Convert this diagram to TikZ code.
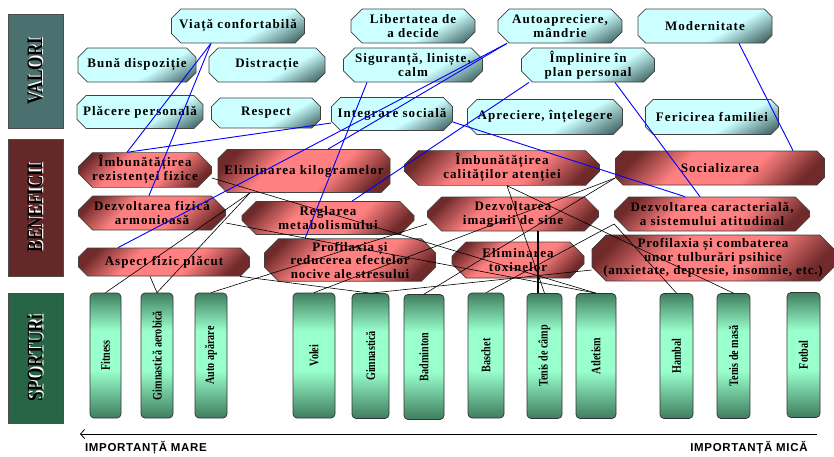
\documentclass[tikz,border=0pt]{standalone}
\usepackage{fontspec}
\usepackage{graphicx}
\setmainfont{Liberation Serif}
\newfontfamily\labfont[FakeStretch=0.78]{Liberation Serif}
\newfontfamily\sportfont[FakeStretch=0.78]{Liberation Serif}
\newfontfamily\axisfont{Liberation Sans}
\usetikzlibrary{shapes.misc,arrows.meta}

%Define all colors here.
\definecolor{vallight}{RGB}{204,255,255}
\definecolor{valdark}{RGB}{72,108,108}
\definecolor{benlight}{RGB}{255,128,128}
\definecolor{bendark}{RGB}{112,42,42}
\definecolor{spolight}{RGB}{153,255,204}
\definecolor{spodark}{RGB}{58,118,88}
\definecolor{lvlight}{RGB}{150,190,190}
\definecolor{lvdark}{RGB}{75,112,112}
\definecolor{lblight}{RGB}{190,100,100}
\definecolor{lbdark}{RGB}{100,40,40}
\definecolor{lslight}{RGB}{110,180,140}
\definecolor{lsdark}{RGB}{40,100,70}

\pgfdeclareverticalshading{valshade}{100bp}{color(0bp)=(valdark); color(20bp)=(valdark); color(40bp)=(vallight); color(100bp)=(vallight)}
\pgfdeclareverticalshading{benshade}{100bp}{color(0bp)=(bendark); color(23bp)=(bendark); color(40bp)=(benlight); color(62bp)=(benlight); color(78bp)=(bendark); color(100bp)=(bendark)}
\pgfdeclareverticalshading{sposhade}{100bp}{color(0bp)=(spodark); color(24bp)=(spodark); color(44bp)=(spolight); color(60bp)=(spolight); color(76bp)=(spodark); color(100bp)=(spodark)}

\newcommand{\sidetext}[1]{\rotatebox{90}{\rlap{\textcolor{white}{\kern1.2pt\raisebox{-1.2pt}{#1}}}#1}}

\begin{document}
\begin{tikzpicture}[x=1pt,y=-1pt,
  valori/.style={chamfered rectangle, chamfered rectangle xsep=8pt, draw=black!75, line width=0.7pt, shade, shading=valshade, shading angle=30, inner sep=0pt, align=center, font=\fontsize{13}{14}\selectfont\bfseries\addfontfeature{LetterSpace=8}},
  benef/.style={chamfered rectangle, chamfered rectangle xsep=11pt, draw=black!75, line width=0.7pt, shade, shading=benshade, shading angle=45, inner sep=0pt, align=center, font=\fontsize{13}{14}\selectfont\bfseries\addfontfeature{LetterSpace=8}},
  sport/.style={rectangle, rounded corners=4pt, draw=black!80, line width=0.7pt, shade, shading=sposhade, minimum height=125pt, inner sep=0pt, font=\sportfont\fontsize{13}{13}\selectfont\bfseries},
  side/.style={rectangle, draw=black!70, line width=0.7pt, minimum width=55pt, inner sep=0pt, font=\labfont\fontsize{22}{22}\selectfont\bfseries},
  blueline/.style={blue, line width=0.9pt},
  blackline/.style={black, line width=0.6pt}]
\useasboundingbox (0,0) rectangle (834,456);

\node(lvalori) at (35.5,71) [side, minimum height=114pt, left color=lvdark, middle color=lvlight, right color=lvdark] {\sidetext{VALORI}};
\node(lbenef) at (35.5,207.5) [side, minimum height=137pt, left color=lbdark, middle color=lblight, right color=lbdark] {\sidetext{BENEFICII}};
\node(lsport) at (35.5,358) [side, minimum height=130pt, left color=lsdark, middle color=lslight, right color=lsdark] {\sidetext{SPORTURi}};

% valori
\node(viata) at (238,26) [valori, minimum width=133pt, minimum height=34pt] {Viață confortabilă};
\node(libert) at (413,26) [valori, minimum width=124pt, minimum height=34pt] {Libertatea de\\a decide};
\node(autoapr) at (560,26) [valori, minimum width=124pt, minimum height=34pt] {Autoapreciere,\\mândrie};
\node(modern) at (705,26) [valori, minimum width=134pt, minimum height=34pt] {Modernitate};
\node(buna) at (137,65) [valori, minimum width=118pt, minimum height=34pt] {Bună dispoziție};
\node(distr) at (267,65) [valori, minimum width=116pt, minimum height=34pt] {Distracție};
\node(sigur) at (413,65) [valori, minimum width=139pt, minimum height=34pt] {Siguranță, liniște,\\calm};
\node(implin) at (588,65) [valori, minimum width=133pt, minimum height=34pt] {Împlinire în\\plan personal};
\node(placere) at (140,112) [valori, minimum width=125pt, minimum height=33pt] {Plăcere personală};
\node(respect) at (266,113) [valori, minimum width=109pt, minimum height=30pt] {Respect};
\node(integr) at (392,114) [valori, minimum width=118pt, minimum height=33pt] {Integrare socială};
\node(aprec) at (545,117) [valori, minimum width=155pt, minimum height=35pt] {Apreciere, înțelegere};
\node(feric) at (712,117) [valori, minimum width=133pt, minimum height=35pt] {Fericirea familiei};

% beneficii
\node(rezist) at (145,170) [benef, minimum width=133pt, minimum height=29pt] {Îmbunătățirea\\rezistenței fizice};
\node(elimkg) at (304,171) [benef, minimum width=172pt, minimum height=43pt] {Eliminarea kilogramelor};
\node(atentie) at (502,168) [benef, minimum width=195pt, minimum height=34pt] {Îmbunătățirea\\calităților atenției};
\node(social) at (720,168) [benef, minimum width=209pt, minimum height=34pt] {Socializarea};
\node(dezvfiz) at (152,213) [benef, minimum width=147pt, minimum height=34pt] {Dezvoltarea fizică\\armonioasă};
\node(reglare) at (328,218) [benef, minimum width=172pt, minimum height=33pt] {Reglarea\\metabolismului};
\node(imagine) at (513,214) [benef, minimum width=171pt, minimum height=34pt] {Dezvoltarea\\imaginii de sine};
\node(dezvcar) at (712,214) [benef, minimum width=195pt, minimum height=34pt] {Dezvoltarea caracterială,\\a sistemului atitudinal};
\node(aspect) at (164,262) [benef, minimum width=171pt, minimum height=28pt] {Aspect fizic plăcut};
\node(profstres) at (350,260) [benef, minimum width=171pt, minimum height=38pt, font=\fontsize{13}{13.5}\selectfont\bfseries\addfontfeature{LetterSpace=6}] {Profilaxia și\\reducerea efectelor\\nocive ale stresului};
\node(toxine) at (518,260) [benef, minimum width=132pt, minimum height=36pt] {Eliminarea\\toxinelor};
\node(tulbur) at (713,258) [benef, minimum width=242pt, minimum height=46pt, font=\fontsize{13}{13.5}\selectfont\bfseries\addfontfeature{LetterSpace=6}] {Profilaxia și combaterea\\unor tulburări psihice\\(anxietate, depresie, insomnie, etc.)};

% sporturi
\node(fitness) at (105.5,355.5) [sport, minimum width=31pt] {\rotatebox{90}{Fitness}};
\node(gimaer) at (157,355.5) [sport, minimum width=32pt] {\rotatebox{90}{Gimnastică aerobică}};
\node(autoap) at (211,355.5) [sport, minimum width=32pt] {\rotatebox{90}{Auto apărare}};
\node(volei) at (314,355.5) [sport, minimum width=42pt] {\rotatebox{90}{Volei}};
\node(gimn) at (370.5,356) [sport, minimum width=37pt] {\rotatebox{90}{Gimnastică}};
\node(badm) at (424,357) [sport, minimum width=40pt] {\rotatebox{90}{Badminton}};
\node(baschet) at (486,355.5) [sport, minimum width=36pt] {\rotatebox{90}{Baschet}};
\node(tenisc) at (544.5,356) [sport, minimum width=35pt] {\rotatebox{90}{Tenis de câmp}};
\node(atlet) at (596,356) [sport, minimum width=40pt] {\rotatebox{90}{Atletism}};
\node(hambal) at (676.5,356) [sport, minimum width=33pt] {\rotatebox{90}{Hambal}};
\node(tenism) at (733.5,356) [sport, minimum width=33pt] {\rotatebox{90}{Tenis de masă}};
\node(fotbal) at (803.5,355) [sport, minimum width=33pt] {\rotatebox{90}{Fotbal}};

% valori - beneficii
\draw[blueline] ([xshift=-27pt]viata.south) -- ([xshift=-18pt]rezist.north);
\draw[blueline] ([xshift=-27pt]viata.south) -- ([xshift=-3pt]dezvfiz.north);
\draw[blueline] ([yshift=-9pt]integr.west) -- ([xshift=-18pt]rezist.north);
\draw[blueline] ([xshift=-46pt]sigur.south) -- ([xshift=-45pt]profstres.north);
\draw[blueline] ([xshift=-53pt]autoapr.south) -- ([xshift=24pt]elimkg.north);
\draw[blueline] ([xshift=-53pt]autoapr.south) -- ([xshift=-46pt]aspect.north);
\draw[blueline] ([xshift=-59pt]implin.south) -- ([xshift=24pt]reglare.north);
\draw[blueline] ([xshift=27pt]implin.south) -- ([xshift=-12pt]dezvcar.north);
\draw[blueline] ([yshift=-8pt]integr.east) -- ([xshift=-27pt]dezvcar.north);
\draw[blueline] ([xshift=34pt]modern.south) -- ([xshift=73pt]social.north);

% beneficii - sporturi
\draw[blackline] ([xshift=-54pt]elimkg.south) -- (fitness.north);
\draw[blackline] ([xshift=-54pt]elimkg.south) -- (gimaer.north);
\draw[blackline] ([xshift=-14pt]aspect.south) -- (gimaer.north);
\draw[blackline] ([xshift=76pt]aspect.south) -- (gimn.north);
\draw[blackline] ([yshift=-10pt]imagine.west) -- (autoap.north);
\draw[blackline] ([yshift=-10pt]social.west) -- (volei.north);
\draw[blackline] ([yshift=-10pt]social.west) -- (badm.north);
\draw[blackline] ([yshift=-10pt]dezvcar.west) -- (baschet.north);
\draw[blackline] ([yshift=-10pt]dezvcar.west) -- (hambal.north);
\draw[blackline] ([yshift=-12pt]tulbur.west) -- (gimn.north);
\draw[blackline] ([xshift=5pt]atentie.south) -- (tenisc.north);
\draw[blackline] ([xshift=5pt]atentie.south) -- (tenism.north);
\draw[black, line width=1.8pt] ([xshift=25pt]imagine.south) -- ([xshift=-6.5pt]tenisc.north);
\draw[blackline] ([yshift=-8pt]rezist.east) -- (atlet.north);
\draw[blackline] ([yshift=-10pt]dezvfiz.east) -- (atlet.north);

% axa
\coordinate(axleft) at (80,434);
\coordinate(axright) at (817,434);
\draw[{Straight Barb[length=4pt,width=9pt]}-, line width=0.8pt] (axleft) -- (axright);
\node(imare) at (146,448) [font=\axisfont\bfseries\fontsize{11.5}{11.5}\selectfont\addfontfeature{LetterSpace=6}] {IMPORTANȚĂ MARE};
\node(imica) at (749,448) [font=\axisfont\bfseries\fontsize{11.5}{11.5}\selectfont\addfontfeature{LetterSpace=6}] {IMPORTANȚĂ MICĂ};
\end{tikzpicture}
\end{document}
